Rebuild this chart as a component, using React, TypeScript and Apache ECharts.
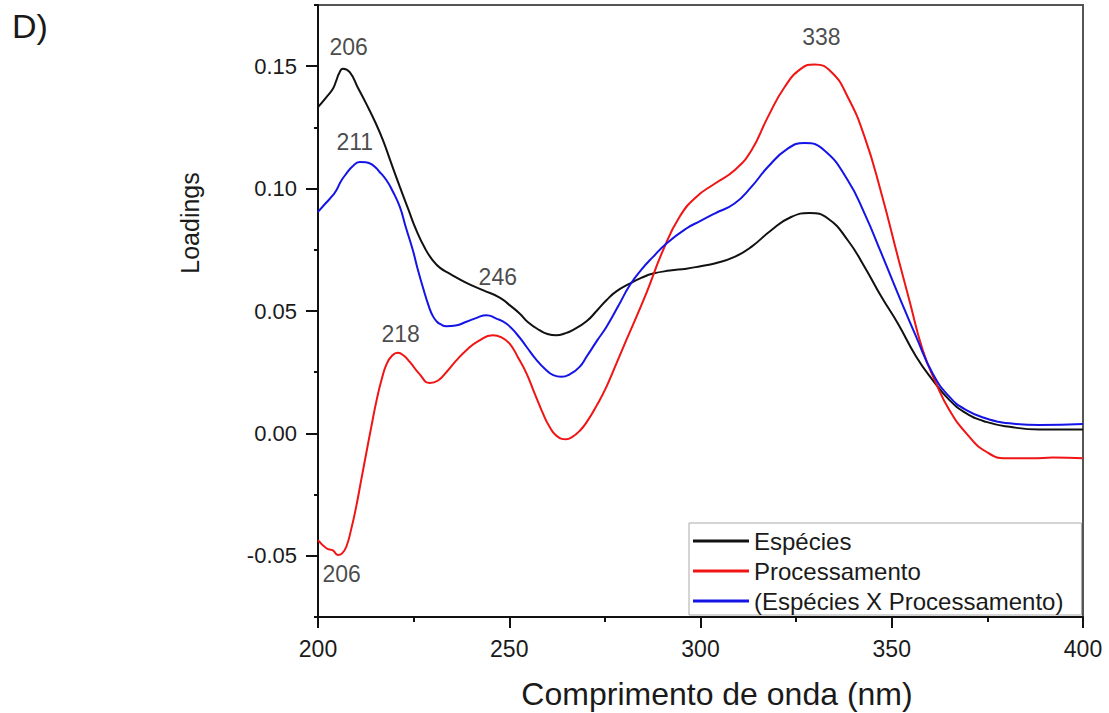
import React, { useEffect, useRef } from "react";
import * as echarts from "echarts";

// ---- data ----
const especiesX = [200, 202, 203.9, 204.8, 205.5, 206.5, 208.3, 210.5, 212.6, 215, 217, 219, 221.4, 223.5, 225.7, 228, 230, 232, 234.4, 238.8, 243.1, 247.5, 250, 252.7, 255, 257.9, 260, 262.3, 264.5, 266.6, 270.2, 273, 275.4, 278, 281.5, 284.5, 287.6, 292, 296.3, 300, 303.7, 308.9, 313.3, 318.5, 323.7, 328.5, 333.3, 338.5, 342.9, 347.3, 351.6, 356.4, 360.7, 365.1, 369.5, 374.7, 380.8, 388.6, 400];
const especiesY = [0.1333, 0.137, 0.1408, 0.1442, 0.147, 0.149, 0.1476, 0.141, 0.1347, 0.127, 0.1197, 0.111, 0.1007, 0.092, 0.083, 0.0755, 0.0707, 0.0675, 0.0653, 0.0615, 0.0585, 0.0555, 0.0525, 0.049, 0.0453, 0.0422, 0.0406, 0.0401, 0.0408, 0.0422, 0.0458, 0.0503, 0.0544, 0.058, 0.0612, 0.0635, 0.0653, 0.0665, 0.0673, 0.0683, 0.0694, 0.0721, 0.0762, 0.083, 0.0884, 0.09, 0.0878, 0.0789, 0.068, 0.0558, 0.0449, 0.0313, 0.0218, 0.0136, 0.0082, 0.0047, 0.0027, 0.0016, 0.0016];

const processamentoX = [200, 202.2, 203.9, 205.2, 206.3, 207.4, 208.7, 210, 211.3, 212.6, 214, 215.3, 216.6, 217.9, 219.4, 220.9, 222.4, 224, 226.5, 229.2, 231.4, 233.6, 236, 238.8, 242, 245.7, 248, 250.1, 252.3, 254.5, 256.6, 258.8, 260.5, 262.3, 264.9, 266.5, 268.4, 270.2, 273, 275.4, 278, 280.6, 285.8, 290.2, 294.5, 298.9, 303.7, 308.9, 313.3, 317.6, 322, 326.3, 329.8, 334.2, 338.5, 342.9, 347.3, 351.6, 354.6, 358.1, 361.6, 365.1, 369.5, 374.7, 379.9, 386.9, 392.1, 400];
const processamentoY = [-0.0436, -0.0469, -0.0478, -0.0497, -0.049, -0.0463, -0.039, -0.0298, -0.019, -0.0082, 0.0032, 0.0134, 0.0218, 0.0282, 0.0318, 0.0329, 0.0318, 0.0292, 0.0243, 0.0206, 0.0216, 0.0251, 0.0295, 0.034, 0.0378, 0.0401, 0.0392, 0.0367, 0.031, 0.0245, 0.0165, 0.0082, 0.0028, -0.0009, -0.0024, -0.0014, 0.001, 0.0045, 0.0118, 0.019, 0.0285, 0.0381, 0.0571, 0.0748, 0.0884, 0.0966, 0.102, 0.1075, 0.1156, 0.1292, 0.1415, 0.149, 0.1507, 0.1476, 0.1374, 0.1211, 0.098, 0.0721, 0.0544, 0.034, 0.0204, 0.0095, 0.0, -0.0075, -0.0102, -0.0102, -0.0098, -0.0102];

const interacaoX = [200, 202, 203.9, 204.8, 206, 207.4, 209, 210.9, 212.5, 214.4, 216, 217.9, 219.5, 221.4, 223, 224.8, 226, 227.4, 229, 230, 231, 232, 233.6, 236, 238.8, 241.5, 244, 246.5, 249.2, 252, 254.5, 257, 259.7, 261.5, 263.6, 266, 268.4, 270.2, 273, 275.4, 278.5, 281.5, 284.5, 287.6, 291.1, 296.3, 300, 303.7, 308.9, 313.3, 317.6, 322.8, 327.2, 332.4, 338.5, 342.9, 347.3, 351.6, 356.4, 360.7, 365.1, 369.5, 374.7, 380.8, 388.6, 400];
const interacaoY = [0.0905, 0.094, 0.0973, 0.0993, 0.103, 0.1061, 0.109, 0.1109, 0.1108, 0.1095, 0.107, 0.1034, 0.099, 0.0925, 0.084, 0.0748, 0.0675, 0.0598, 0.0518, 0.048, 0.0458, 0.0446, 0.0438, 0.0441, 0.0456, 0.0472, 0.0483, 0.047, 0.0449, 0.0405, 0.0354, 0.0302, 0.0258, 0.0238, 0.0231, 0.0243, 0.0272, 0.0313, 0.038, 0.0435, 0.052, 0.0605, 0.0668, 0.0721, 0.0776, 0.0837, 0.0868, 0.0898, 0.0939, 0.1007, 0.1088, 0.1163, 0.1186, 0.1156, 0.1034, 0.0898, 0.0735, 0.0571, 0.0394, 0.0245, 0.0149, 0.0095, 0.0061, 0.0041, 0.0034, 0.0038];

const seriesNames = ["Espécies", "Processamento", "(Espécies X Processamento)"];

// peak annotations: text, wavelength, loading (text anchor)
const annotationText = ["206", "211", "246", "218", "206", "338"];
const annotationX = [208.0, 209.6, 247.0, 221.6, 206.2, 331.6];
const annotationY = [0.1577, 0.1189, 0.064, 0.0405, -0.0574, 0.1619];

// y tick labels (major ticks every 0.05, minor every 0.025)
const yTickCategories = ["", "-0.05", "", "0.00", "", "0.05", "", "0.10", "", "0.15", ""];

const xTitle = "Comprimento de onda (nm)";
const yTitle = "Loadings";
const panelLabel = "D)";

const FONT = "'Liberation Sans', Arial, Helvetica, sans-serif";
const TEXT = "#1a1a1a";

const zip = (xs: number[], ys: number[]) => xs.map((x, i) => [x, ys[i]]);

export default function App() {
  const ref = useRef<HTMLDivElement>(null);

  useEffect(() => {
    if (!ref.current) return;
    const chart = echarts.init(ref.current, undefined, { renderer: "svg" });
    const lineSeries = (name: string, data: number[][], color: string) => ({
      name,
      type: "line",
      data,
      xAxisIndex: 0,
      yAxisIndex: 0,
      smooth: 0.5,
      symbol: "none",
      showSymbol: false,
      lineStyle: { color, width: 2 },
      itemStyle: { color },
      z: 3,
    });
    chart.setOption({
      animation: false,
      backgroundColor: "#ffffff",
      textStyle: { fontFamily: FONT },
      grid: {
        left: 318,
        right: 26,
        top: 5,
        bottom: 96,
        show: true,
        borderColor: "#555",
        borderWidth: 2,
        backgroundColor: "transparent",
      },
      xAxis: [
        {
          type: "value",
          min: 200,
          max: 400,
          interval: 50,
          position: "bottom",
          axisLine: { show: true, onZero: false, lineStyle: { color: "#111", width: 2 } },
          axisTick: { show: true, length: 11, lineStyle: { color: "#111", width: 2 } },
          minorTick: { show: true, splitNumber: 2, length: 5, lineStyle: { color: "#111", width: 2 } },
          splitLine: { show: false },
          minorSplitLine: { show: false },
          axisLabel: { fontSize: 23, color: TEXT, margin: 20, fontFamily: FONT },
        },
      ],
      yAxis: [
        {
          type: "value",
          min: -0.075,
          max: 0.175,
          interval: 0.025,
          axisLine: { show: true, onZero: false, lineStyle: { color: "#111", width: 2 } },
          axisTick: { show: true, length: 4, lineStyle: { color: "#111", width: 2 } },
          axisLabel: { show: false },
          splitLine: { show: false },
        },
        {
          type: "category",
          data: yTickCategories,
          boundaryGap: false,
          position: "left",
          axisLine: { show: false, onZero: false },
          axisTick: {
            show: true,
            length: 12,
            interval: (_i: number, v: string) => v !== "",
            lineStyle: { color: "#111", width: 2 },
          },
          axisLabel: { show: true, interval: 0, fontSize: 22, color: TEXT, margin: 21, fontFamily: FONT },
          splitLine: { show: false },
        },
      ],
      legend: {
        data: seriesNames,
        orient: "vertical",
        left: 689,
        top: 523,
        padding: [6, 18, 2, 4],
        itemGap: 6,
        itemWidth: 56,
        itemHeight: 3,
        icon: "rect",
        backgroundColor: "#fff",
        borderColor: "#aaa",
        borderWidth: 1,
        textStyle: { fontSize: 24, color: TEXT, fontFamily: FONT, padding: [0, 0, 0, 0] },
      },
      series: [
        lineSeries(seriesNames[0], zip(especiesX, especiesY), "#111111"),
        lineSeries(seriesNames[1], zip(processamentoX, processamentoY), "#f01414"),
        lineSeries(seriesNames[2], zip(interacaoX, interacaoY), "#1414e6"),
        {
          name: "annotations",
          type: "scatter",
          xAxisIndex: 0,
          yAxisIndex: 0,
          symbolSize: 0,
          silent: true,
          data: annotationText.map((t, i) => ({ name: t, value: [annotationX[i], annotationY[i]] })),
          label: {
            show: true,
            position: "inside",
            formatter: "{b}",
            fontSize: 23,
            color: TEXT,
            fontFamily: FONT,
          },
          z: 5,
        },
      ],
      graphic: [
        {
          type: "text",
          left: 12,
          top: 9,
          style: { text: panelLabel, fontSize: 34, fill: TEXT, fontFamily: FONT },
        },
        {
          type: "text",
          x: 190,
          y: 223,
          rotation: Math.PI / 2,
          style: {
            text: yTitle,
            fontSize: 25,
            fill: TEXT,
            fontFamily: FONT,
            textAlign: "center",
            textVerticalAlign: "middle",
          },
        },
        {
          type: "text",
          x: 717,
          y: 694,
          style: {
            text: xTitle,
            fontSize: 32,
            fill: TEXT,
            fontFamily: FONT,
            textAlign: "center",
            textVerticalAlign: "middle",
          },
        },
      ],
    });
    return () => chart.dispose();
  }, []);

  return (
    <div
      ref={ref}
      style={{ position: "absolute", left: 0, top: 0, width: 1109, height: 713, background: "#fff" }}
    />
  );
}
